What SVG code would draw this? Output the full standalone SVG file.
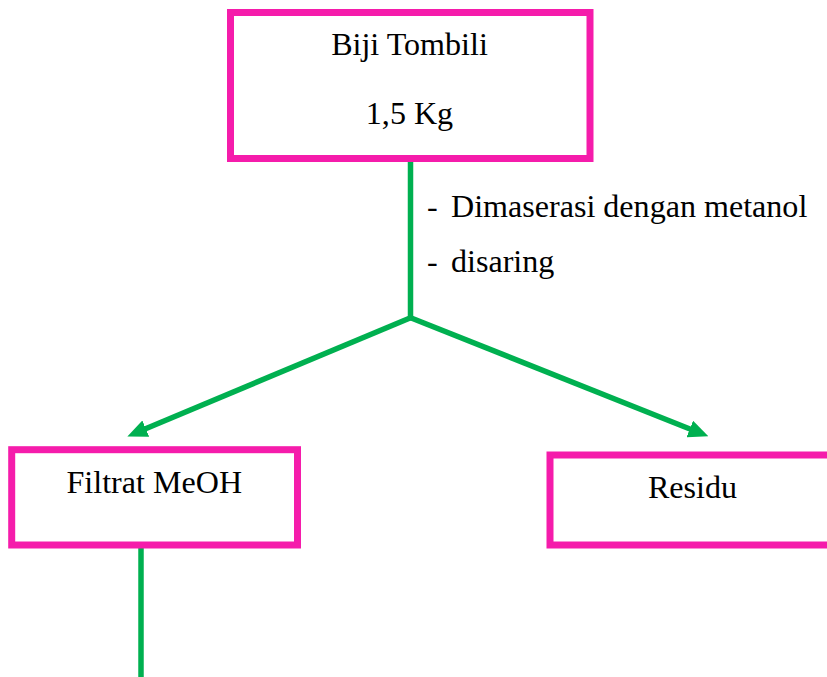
<svg xmlns="http://www.w3.org/2000/svg" width="827" height="677" viewBox="0 0 827 677">
<style>
.box{fill:#fff;stroke:#F51CAB;stroke-width:7}
.ln{fill:none;stroke:#00B050;stroke-width:5.5}
text{font-family:'Liberation Serif','Times New Roman',Times,serif;font-size:32.1px;fill:#000}
.c{text-anchor:middle}
</style>
<defs>
<marker id="ah" markerUnits="userSpaceOnUse" markerWidth="20" markerHeight="18" viewBox="0 0 18 16" refX="2" refY="8" orient="auto">
<path d="M0,0 L18,8 L0,16 z" fill="#00B050"/>
</marker>
</defs>
<rect width="827" height="677" fill="#fff"/>
<g id="connectors">
<line class="ln" x1="410.5" y1="158" x2="410.5" y2="318"/>
<line class="ln" x1="410.6" y1="317.7" x2="143.76" y2="429.52" marker-end="url(#ah)"/>
<line class="ln" x1="410.6" y1="317.7" x2="691.84" y2="429.78" marker-end="url(#ah)"/>
<line class="ln" x1="141" y1="545" x2="141" y2="677"/>
</g>
<g id="node-biji">
<rect class="box" x="230.5" y="12.5" width="359.5" height="146"/>
<text class="c" x="409.5" y="55">Biji Tombili</text>
<text class="c" x="409.5" y="124">1,5 Kg</text>
</g>
<g id="label-proses">
<text x="427" y="216.7">-</text>
<text x="451" y="216.7">Dimaserasi dengan metanol</text>
<text x="427" y="272">-</text>
<text x="451" y="272">disaring</text>
</g>
<g id="node-filtrat">
<rect class="box" x="11.7" y="449.7" width="285.8" height="95.3"/>
<text class="c" x="154.3" y="492.5">Filtrat MeOH</text>
</g>
<g id="node-residu">
<rect class="box" x="550" y="455" width="300" height="90"/>
<text class="c" x="692.5" y="497.7">Residu</text>
</g>
</svg>
